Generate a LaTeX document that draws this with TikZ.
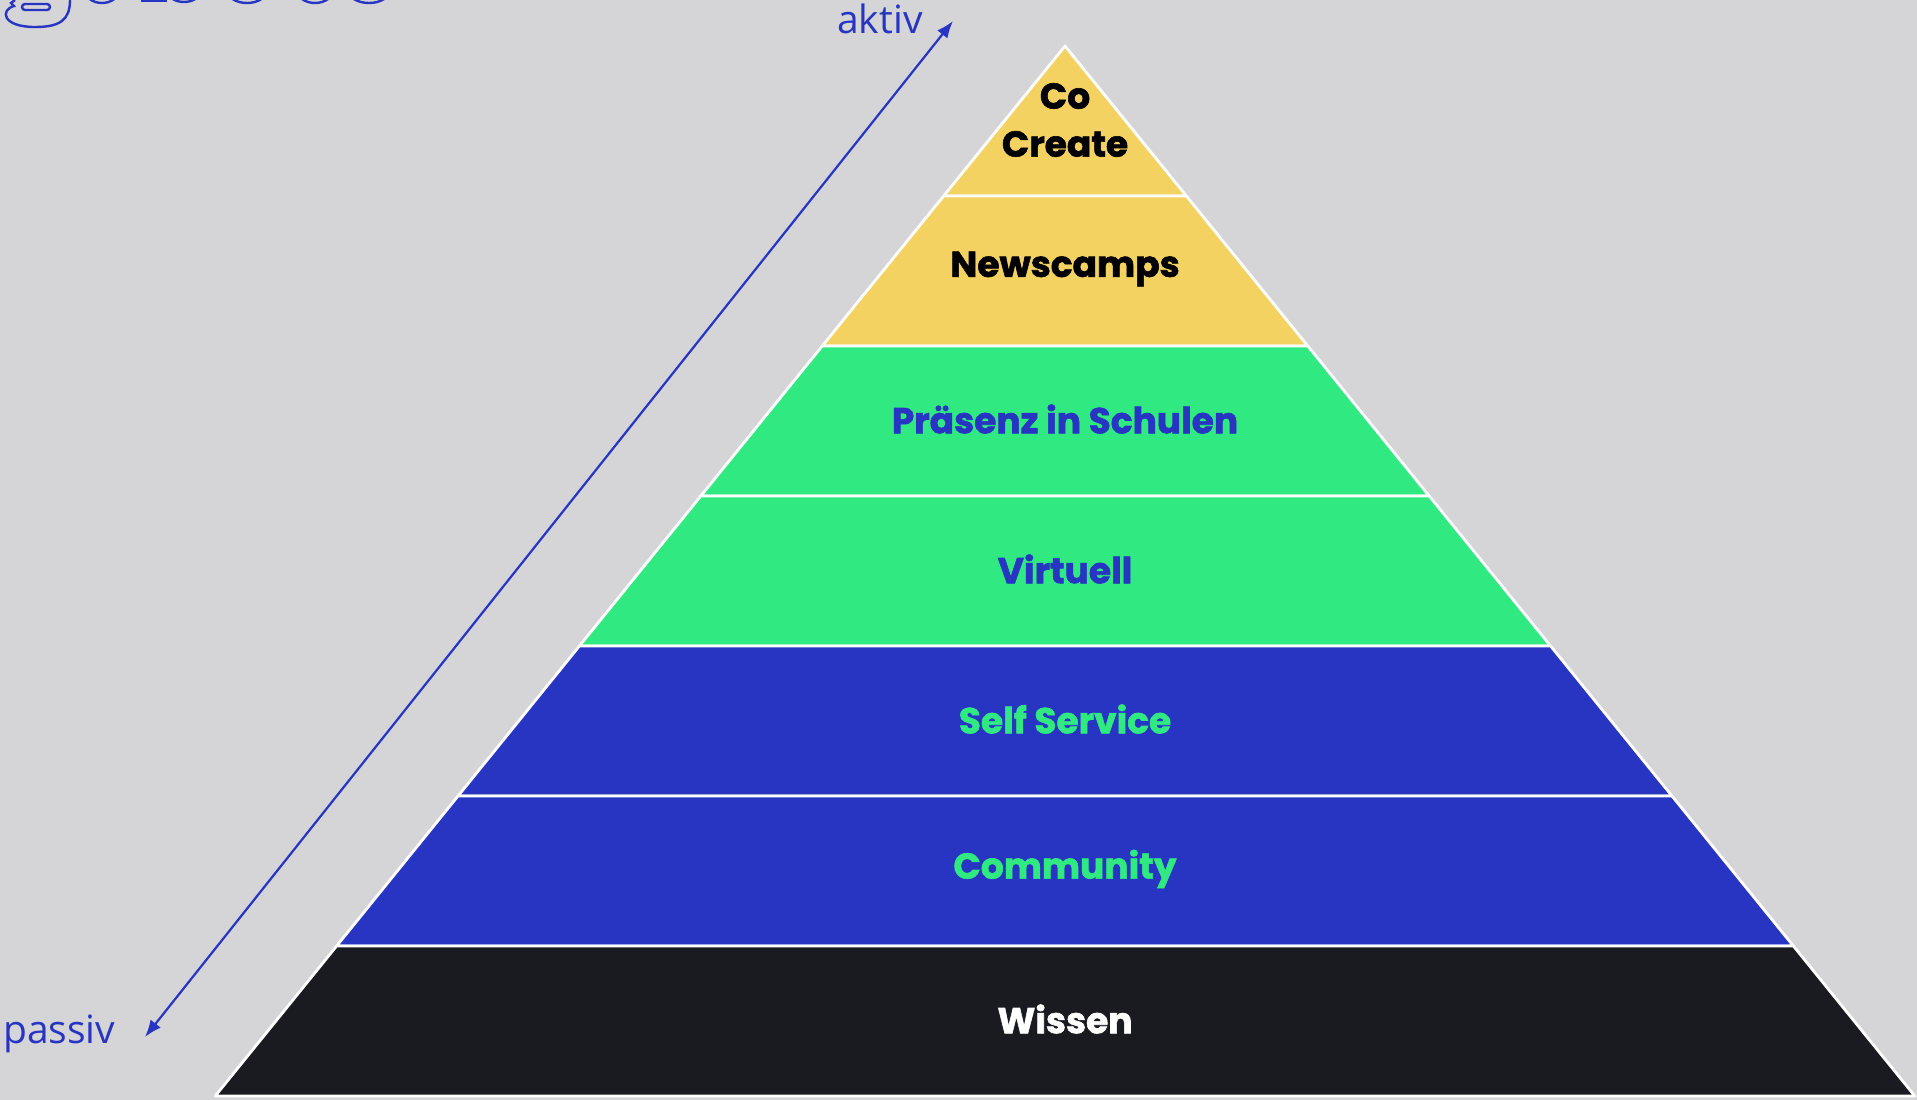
\documentclass[tikz,border=0pt]{standalone}
\usepackage{fontspec}
\setmainfont{Poppins}[BoldFeatures={FakeBold=1.6}]
\newfontfamily\labelfont{Open Sans}
\usetikzlibrary{arrows.meta}
\definecolor{bg}{HTML}{D5D5D8}
\definecolor{pyel}{HTML}{F4D262}
\definecolor{pgrn}{HTML}{31E981}
\definecolor{pblu}{HTML}{2835C3}
\definecolor{pblk}{HTML}{1A1B20}
\tikzset{
  layer/.style={fill=#1, draw=white, line width=2.8pt, line join=round},
  lbl/.style={font=\fontsize{36}{45}\selectfont\bfseries, text=#1, align=center, inner sep=0pt},
  axislbl/.style={font=\labelfont\fontsize{39}{46}\selectfont, text=pblu, inner sep=0pt, anchor=base west},
  deco/.style={draw=pblu, line width=2.4pt}
}
\begin{document}
\begin{tikzpicture}[x=1pt,y=-1pt]
\fill[bg] (0,0) rectangle (1917,1100);
\useasboundingbox (0,0) rectangle (1917,1100);
% partially visible headline letters (cut by the top edge)
\begin{scope}
\clip (0,0) rectangle (1917,1100);
\draw[deco] (15,0) -- (11,3) -- (14,6) .. controls (0,10) and (2,27) .. (35,27) .. controls (60,27) and (70,20) .. (70,0);
\draw[deco, rounded corners=3pt] (22,4) rectangle (50,10);
\draw[deco] (102,-10) ellipse [x radius=17, y radius=13];
\draw[deco] (142,-10) -- (142,1) -- (167,1);
\draw[deco] (184,-10) ellipse [x radius=17, y radius=12];
\draw[deco] (247,-10) ellipse [x radius=20, y radius=13];
\draw[deco] (315,-10) ellipse [x radius=18, y radius=13];
\draw[deco] (369,-10) ellipse [x radius=21, y radius=13];
\end{scope}
% pyramid layers
\foreach \k/\col in {0/pyel,1/pyel,2/pgrn,3/pgrn,4/pblu,5/pblu,6/pblk}{
  \pgfmathsetmacro{\ya}{46+150*\k}
  \pgfmathsetmacro{\yb}{46+150*(\k+1)}
  \pgfmathsetmacro{\wa}{121.4*\k}
  \pgfmathsetmacro{\wb}{121.4*(\k+1)}
  \path[layer=\col] (1065-\wa,\ya) -- (1065+\wa,\ya) -- (1065+\wb,\yb) -- (1065-\wb,\yb) -- cycle;
}
\node[lbl=black] (cocreate) at (1065,120) {Co\\[3pt]Create};
\node[lbl=black] (newscamps) at (1065,269) {Newscamps};
\node[lbl=pblu] (praesenz) at (1065,419) {Präsenz in Schulen};
\node[lbl=pblu] (virtuell) at (1065,569) {Virtuell};
\node[lbl=pgrn] (selfservice) at (1065,719) {Self Service};
\node[lbl=pgrn] (community) at (1065,869) {Community};
\node[lbl=white] (wissen) at (1065,1019) {Wissen};
% axis
\node[axislbl] (aktiv) at (837,33) {aktiv};
\node[axislbl] (passiv) at (3,1043) {passiv};
\coordinate (akt) at (953,21);
\coordinate (pas) at (145,1037);
\draw[draw=pblu, line width=2.2pt, {Latex[length=17pt,width=13pt]}-{Latex[length=17pt,width=13pt]}] (pas) -- (akt);
\end{tikzpicture}
\end{document}
